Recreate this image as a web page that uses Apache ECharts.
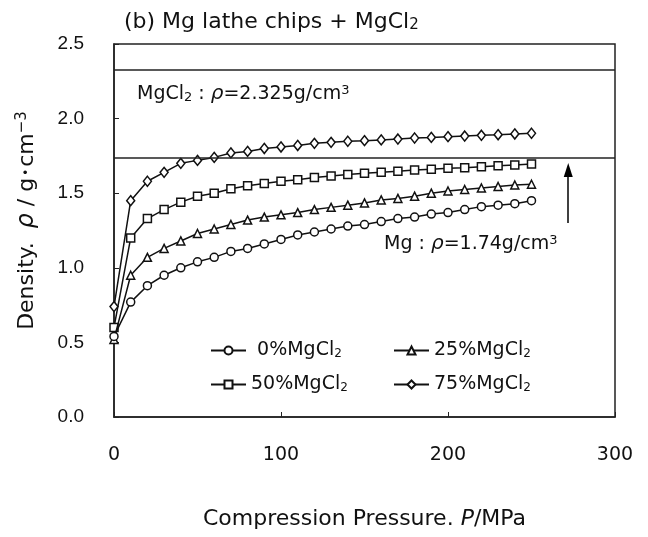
<!DOCTYPE html>
<html><head><meta charset="utf-8">
<script src="https://cdn.jsdelivr.net/npm/echarts@6/dist/echarts.min.js"></script>
<style>html,body{margin:0;padding:0;background:#fff}#c{width:648px;height:537px}</style>
</head><body><div id="c"></div>
<script>
const pressure = [0,10,20,30,40,50,60,70,80,90,100,110,120,130,140,150,160,170,180,190,200,210,220,230,240,250];
const mgcl0  = [0.54,0.77,0.88,0.95,1.00,1.04,1.07,1.11,1.13,1.16,1.19,1.22,1.24,1.26,1.28,1.29,1.31,1.33,1.34,1.36,1.37,1.39,1.41,1.42,1.43,1.45];
const mgcl25 = [0.52,0.95,1.07,1.13,1.18,1.23,1.26,1.29,1.32,1.34,1.355,1.37,1.39,1.405,1.42,1.435,1.455,1.465,1.48,1.50,1.515,1.525,1.535,1.545,1.555,1.56];
const mgcl50 = [0.60,1.20,1.33,1.39,1.44,1.48,1.50,1.53,1.55,1.565,1.58,1.59,1.605,1.615,1.625,1.633,1.64,1.647,1.655,1.66,1.667,1.671,1.678,1.684,1.689,1.696];
const mgcl75 = [0.74,1.45,1.58,1.64,1.70,1.72,1.74,1.77,1.78,1.80,1.81,1.82,1.834,1.841,1.848,1.852,1.857,1.863,1.87,1.874,1.879,1.883,1.888,1.892,1.897,1.902];
const seriesNames = ['0%MgCl2','25%MgCl2','50%MgCl2','75%MgCl2'];
const legendLabels = [' 0%MgCl{s|2}','25%MgCl{s|2}','50%MgCl{s|2}','75%MgCl{s|2}'];
const symbols = ['circle','triangle','rect','diamond'];
const refLines = [2.325, 1.74];
const arrowFrom = [272, 1.30];
const arrowTo = [272, 1.655];
const xTicks = [0,100,200,300];
const yTicks = [0,0.5,1.0,1.5,2.0,2.5];

const FONT = '"Liberation Sans", Arial, "Noto Sans CJK JP", sans-serif';
const WIDE = '"DejaVu Sans", "Noto Sans CJK JP", sans-serif';
const allData = [mgcl0, mgcl25, mgcl50, mgcl75];
const chart = echarts.init(document.getElementById('c'));

const series = allData.map((d, i) => ({
  name: seriesNames[i],
  type: 'line',
  data: pressure.map((p, j) => [p, d[j]]),
  symbol: symbols[i],
  symbolSize: i === 3 ? [8, 10] : 8,
  showAllSymbol: true,
  z: 5 - i,
  lineStyle: {color: '#111', width: 1.5},
  itemStyle: {color: '#fff', borderColor: '#111', borderWidth: 1.5},
  emphasis: {disabled: true},
  animation: false
}));

series.push({
  type: 'line', data: [], silent: true, animation: false,
  markLine: {
    silent: true, symbol: ['none', 'none'], label: {show: false},
    lineStyle: {color: '#222', width: 1.5, type: 'solid'},
    data: refLines.map(v => ({yAxis: v}))
  }
});
series.push({
  type: 'line', data: [], silent: true, animation: false,
  markLine: {
    silent: true, symbol: ['none', 'triangle'], symbolSize: [9, 14], label: {show: false},
    lineStyle: {color: '#000', width: 1.5, type: 'solid'},
    data: [[{coord: arrowFrom}, {coord: arrowTo}]]
  }
});

const legendPos = [[210, 341], [393, 341], [210, 375], [393, 375]];
const legends = seriesNames.map((n, i) => ({
  left: legendPos[i][0], top: legendPos[i][1], padding: 0,
  itemWidth: 35, itemHeight: 10, selectedMode: false,
  data: [n],
  formatter: name => legendLabels[seriesNames.indexOf(name)],
  textStyle: {
    fontFamily: WIDE, fontSize: 19, color: '#111',
    rich: {s: {fontSize: 12, verticalAlign: 'bottom', lineHeight: 14, fontFamily: WIDE, color: '#111'}}
  }
}));

chart.setOption({
  animation: false,
  backgroundColor: '#fff',
  title: {
    text: '(b) Mg lathe chips + MgCl{s|2}',
    left: 119, top: 6,
    textStyle: {
      fontFamily: WIDE, fontSize: 22, fontWeight: 'normal', color: '#111',
      rich: {s: {fontSize: 15, verticalAlign: 'bottom', lineHeight: 16, fontFamily: WIDE, color: '#111'}}
    }
  },
  legend: legends,
  grid: {left: 114, right: 33, top: 44, bottom: 120, show: true, borderColor: '#222', borderWidth: 1.5},
  xAxis: {
    type: 'value', min: 0, max: 300, interval: 100,
    name: 'Compression Pressure. {i|P}/MPa',
    nameLocation: 'middle', nameGap: 91,
    nameTextStyle: {fontFamily: WIDE, fontSize: 22, color: '#111',
      rich: {i: {fontStyle: 'italic', fontFamily: WIDE, fontSize: 22, color: '#111'}}},
    axisLine: {show: true, lineStyle: {color: '#222', width: 1.5}},
    axisTick: {show: true, inside: true, length: 5, lineStyle: {color: '#222'}},
    axisLabel: {margin: 29, fontFamily: WIDE, fontSize: 19, color: '#111',
      formatter: v => xTicks.includes(v) ? String(v) : ''},
    splitLine: {show: false}
  },
  yAxis: {
    type: 'value', min: 0, max: 2.5, interval: 0.5,
    name: 'Density.  {i|ρ} / g･cm{sup|−3}',
    nameLocation: 'middle', nameGap: 75, nameRotate: 90,
    nameTextStyle: {fontFamily: WIDE, fontSize: 22, color: '#111', padding: [0, 0, 0, 20],
      rich: {
        i: {fontStyle: 'italic', fontFamily: WIDE, fontSize: 24, color: '#111'},
        sup: {fontSize: 15, verticalAlign: 'top', lineHeight: 12, fontFamily: WIDE, color: '#111'}
      }},
    axisLine: {show: true, lineStyle: {color: '#222', width: 1.5}},
    axisTick: {show: true, inside: true, length: 5, lineStyle: {color: '#222'}},
    axisLabel: {margin: 30, fontFamily: FONT, fontSize: 19, color: '#111',
      formatter: v => yTicks.some(t => Math.abs(t - v) < 1e-9) ? v.toFixed(1) : ''},
    splitLine: {show: false}
  },
  graphic: [
    {type: 'text', left: 137, top: 84, style: {
      text: 'MgCl{s|2} : {i|ρ}=2.325g/cm{p|3}',
      fontFamily: WIDE, fontSize: 19, fill: '#111',
      rich: {
        s: {fontSize: 13, verticalAlign: 'bottom', lineHeight: 14, fontFamily: WIDE},
        i: {fontStyle: 'italic', fontSize: 20, fontFamily: WIDE},
        p: {fontSize: 13, verticalAlign: 'top', lineHeight: 12, fontFamily: WIDE}
      }}},
    {type: 'text', left: 384, top: 234, style: {
      text: 'Mg : {i|ρ}=1.74g/cm{p|3}',
      fontFamily: WIDE, fontSize: 19, fill: '#111',
      rich: {
        i: {fontStyle: 'italic', fontSize: 20, fontFamily: WIDE},
        p: {fontSize: 13, verticalAlign: 'top', lineHeight: 12, fontFamily: WIDE}
      }}}
  ],
  series: series
});
</script></body></html>
